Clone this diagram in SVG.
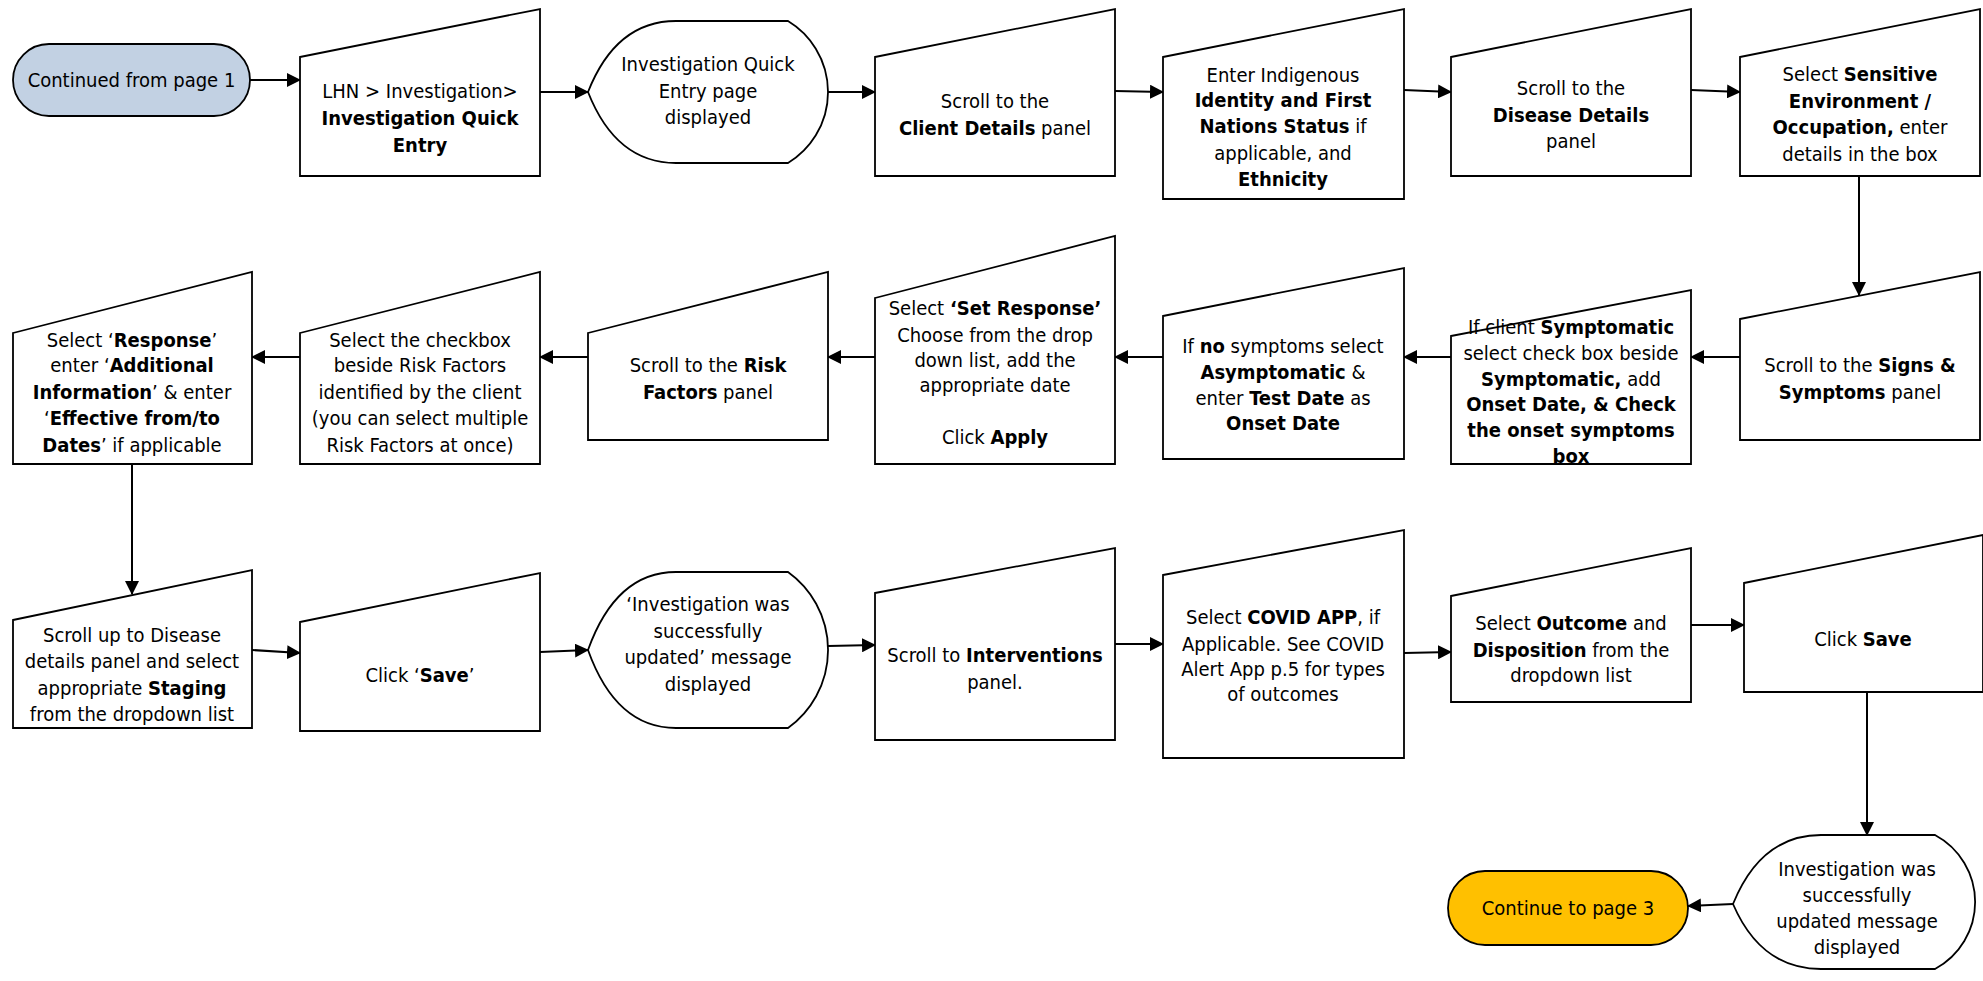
<svg xmlns="http://www.w3.org/2000/svg" width="1983" height="981" viewBox="0 0 1983 981">
<defs>
<marker id="ah" markerWidth="14" markerHeight="14" refX="13" refY="7" orient="auto" markerUnits="userSpaceOnUse"><path d="M0,0 L14,7 L0,14 Z" fill="#000"/></marker>
<style>
.s{fill:#fff;stroke:#000;stroke-width:1.8;stroke-linejoin:miter}
.c{fill:none;stroke:#000;stroke-width:2;marker-end:url(#ah)}
text{font-family:'DejaVu Sans Condensed','DejaVu Sans','Liberation Sans',sans-serif;font-stretch:condensed;font-size:20px;text-anchor:middle;fill:#000}
.b{font-weight:bold}
</style>
</defs>
<rect width="1983" height="981" fill="#fff"/>
<g id="connectors">
<path class="c" d="M250,80 L300,80"/>
<path class="c" d="M540,92 L588,92"/>
<path class="c" d="M828,92 L875,92"/>
<path class="c" d="M1115,91 L1163,92"/>
<path class="c" d="M1404,90 L1451,92"/>
<path class="c" d="M1691,90 L1740,92"/>
<path class="c" d="M1859,176 L1859,295"/>
<path class="c" d="M1740,357 L1691,357"/>
<path class="c" d="M1451,357 L1404,357"/>
<path class="c" d="M1163,357 L1115,357"/>
<path class="c" d="M875,357 L828,357"/>
<path class="c" d="M588,357 L540,357"/>
<path class="c" d="M300,357 L252,357"/>
<path class="c" d="M132,464 L132,594"/>
<path class="c" d="M252,650 L300,653"/>
<path class="c" d="M540,652 L588,650"/>
<path class="c" d="M828,646 L875,645"/>
<path class="c" d="M1115,644 L1163,644"/>
<path class="c" d="M1404,653 L1451,652"/>
<path class="c" d="M1691,625 L1744,625"/>
<path class="c" d="M1867,692 L1867,835"/>
<path class="c" d="M1733,904 L1688,906"/>
</g>
<g id="n1"><rect x="13" y="44" width="237" height="72" rx="36" fill="#c2d1e3" stroke="#000" stroke-width="1.8"/><text x="131.5" y="87">Continued from page 1</text></g>
<g id="n2"><polygon class="s" points="300,57 540,9 540,176 300,176"/><text x="420" y="98">LHN &gt; Investigation&gt;</text><text x="420" y="125" class="b">Investigation Quick</text><text x="420" y="152" class="b">Entry</text></g>
<g id="n3"><path class="s" d="M588,92 Q616,21 676,21 L788,21 A83,83 0 0 1 788,163 L676,163 Q616,163 588,92 Z"/><text x="708" y="71">Investigation Quick</text><text x="708" y="98">Entry page</text><text x="708" y="124">displayed</text></g>
<g id="n4"><polygon class="s" points="875,57 1115,9 1115,176 875,176"/><text x="995" y="108">Scroll to the</text><text x="995" y="135"><tspan class="b">Client Details</tspan> panel</text></g>
<g id="n5"><polygon class="s" points="1163,57 1404,9 1404,199 1163,199"/><text x="1283" y="82">Enter Indigenous</text><text x="1283" y="107" class="b">Identity and First</text><text x="1283" y="133"><tspan class="b">Nations Status</tspan> if</text><text x="1283" y="160">applicable,  and</text><text x="1283" y="186" class="b">Ethnicity</text></g>
<g id="n6"><polygon class="s" points="1451,57 1691,9 1691,176 1451,176"/><text x="1571" y="95">Scroll to the</text><text x="1571" y="122" class="b">Disease Details</text><text x="1571" y="148">panel</text></g>
<g id="n7"><polygon class="s" points="1740,57 1980,9 1980,176 1740,176"/><text x="1860" y="81">Select <tspan class="b">Sensitive</tspan></text><text x="1860" y="108" class="b">Environment /</text><text x="1860" y="134"><tspan class="b">Occupation,</tspan> enter</text><text x="1860" y="161">details in the box</text></g>
<g id="n8"><polygon class="s" points="1740,319 1980,272 1980,440 1740,440"/><text x="1860" y="372">Scroll to the <tspan class="b">Signs &amp;</tspan></text><text x="1860" y="399"><tspan class="b">Symptoms</tspan> panel</text></g>
<g id="n9"><polygon class="s" points="1451,336 1691,290 1691,464 1451,464"/><text x="1571" y="334">If client <tspan class="b">Symptomatic</tspan></text><text x="1571" y="360">select check box beside</text><text x="1571" y="386"><tspan class="b">Symptomatic,</tspan> add</text><text x="1571" y="411" class="b">Onset Date, &amp; Check</text><text x="1571" y="437" class="b">the onset symptoms</text><text x="1571" y="463" class="b">box</text></g>
<g id="n10"><polygon class="s" points="1163,316 1404,268 1404,459 1163,459"/><text x="1283" y="353">If <tspan class="b">no</tspan> symptoms select</text><text x="1283" y="379"><tspan class="b">Asymptomatic</tspan> &amp;</text><text x="1283" y="405">enter <tspan class="b">Test Date</tspan> as</text><text x="1283" y="430" class="b">Onset Date</text></g>
<g id="n11"><polygon class="s" points="875,298 1115,236 1115,464 875,464"/><text x="995" y="315">Select <tspan class="b">‘Set Response’</tspan></text><text x="995" y="342">Choose from the drop</text><text x="995" y="367">down list, add the</text><text x="995" y="392">appropriate date</text><text x="995" y="444">Click <tspan class="b">Apply</tspan></text></g>
<g id="n12"><polygon class="s" points="588,333 828,272 828,440 588,440"/><text x="708" y="372">Scroll to the <tspan class="b">Risk</tspan></text><text x="708" y="399"><tspan class="b">Factors</tspan> panel</text></g>
<g id="n13"><polygon class="s" points="300,333 540,272 540,464 300,464"/><text x="420" y="347">Select the checkbox</text><text x="420" y="372">beside Risk Factors</text><text x="420" y="399">identified by the client</text><text x="420" y="425">(you can select multiple</text><text x="420" y="452">Risk Factors at once)</text></g>
<g id="n14"><polygon class="s" points="13,333 252,272 252,464 13,464"/><text x="132" y="347">Select ‘<tspan class="b">Response</tspan>’</text><text x="132" y="372">enter ‘<tspan class="b">Additional</tspan></text><text x="132" y="399"><tspan class="b">Information</tspan>’ &amp; enter</text><text x="132" y="425">‘<tspan class="b">Effective from/to</tspan></text><text x="132" y="452"><tspan class="b">Dates</tspan>’ if applicable</text></g>
<g id="n15"><polygon class="s" points="13,620 252,570 252,728 13,728"/><text x="132" y="642">Scroll up to Disease</text><text x="132" y="668">details panel and select</text><text x="132" y="695">appropriate <tspan class="b">Staging</tspan></text><text x="132" y="721">from the dropdown list</text></g>
<g id="n16"><polygon class="s" points="300,622 540,573 540,731 300,731"/><text x="420" y="682">Click ‘<tspan class="b">Save</tspan>’</text></g>
<g id="n17"><path class="s" d="M588,650 Q616,572 676,572 L788,572 A96,96 0 0 1 788,728 L676,728 Q616,728 588,650 Z"/><text x="708" y="611">‘Investigation was</text><text x="708" y="638">successfully</text><text x="708" y="664">updated’ message</text><text x="708" y="691">displayed</text></g>
<g id="n18"><polygon class="s" points="875,593 1115,548 1115,740 875,740"/><text x="995" y="662">Scroll to <tspan class="b">Interventions</tspan></text><text x="995" y="689">panel.</text></g>
<g id="n19"><polygon class="s" points="1163,575 1404,530 1404,758 1163,758"/><text x="1283" y="624">Select <tspan class="b">COVID APP</tspan>, if</text><text x="1283" y="651">Applicable. See COVID</text><text x="1283" y="676">Alert App p.5 for types</text><text x="1283" y="701">of outcomes</text></g>
<g id="n20"><polygon class="s" points="1451,596 1691,548 1691,702 1451,702"/><text x="1571" y="630">Select <tspan class="b">Outcome</tspan> and</text><text x="1571" y="657"><tspan class="b">Disposition</tspan>  from the</text><text x="1571" y="682">dropdown list</text></g>
<g id="n21"><polygon class="s" points="1744,583 1983,535 1983,692 1744,692"/><text x="1863" y="646">Click <tspan class="b">Save</tspan></text></g>
<g id="n22"><path class="s" d="M1733,904 Q1761,835 1821,835 L1935,835 A76,76 0 0 1 1935,969 L1821,969 Q1761,969 1733,904 Z"/><text x="1857" y="876">Investigation was</text><text x="1857" y="902">successfully</text><text x="1857" y="928">updated message</text><text x="1857" y="954">displayed</text></g>
<g id="n23"><rect x="1448" y="871" width="240" height="74" rx="37" fill="#ffc000" stroke="#000" stroke-width="1.8"/><text x="1568" y="915">Continue to page 3</text></g>
</svg>
